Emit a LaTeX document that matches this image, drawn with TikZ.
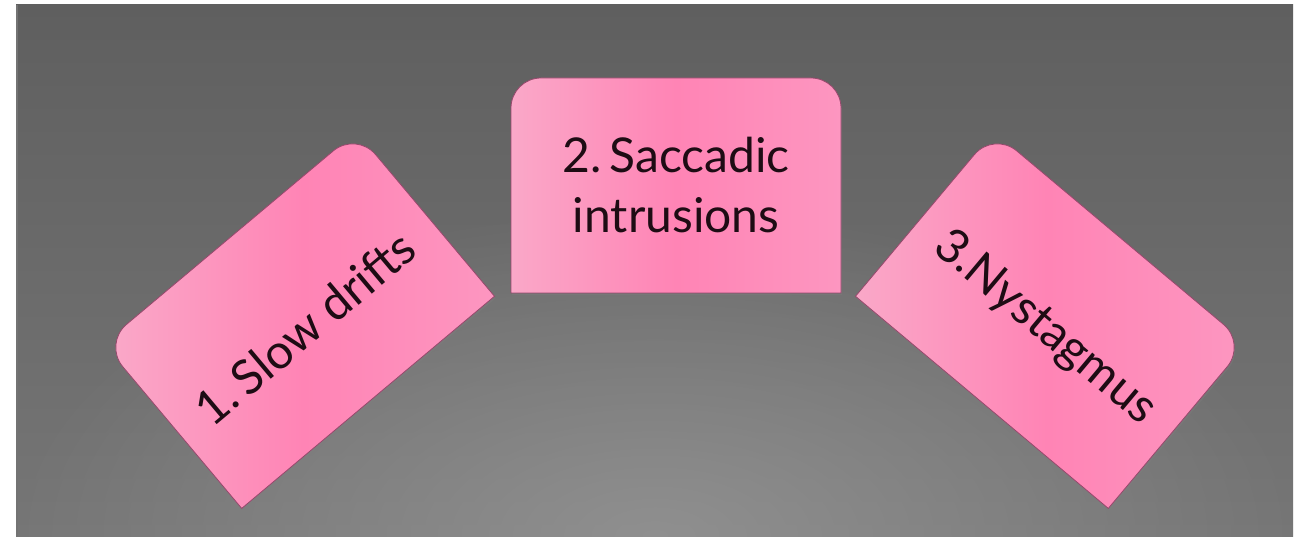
\documentclass[tikz,border=0pt]{standalone}
\usepackage{fontspec}
\setmainfont{Lato}
\usetikzlibrary{shadows,fadings}
\definecolor{bgtop}{RGB}{95,95,95}
\definecolor{bgbot}{RGB}{118,118,118}
\definecolor{glow}{RGB}{152,152,152}
\definecolor{pinkA}{RGB}{250,168,200}
\definecolor{pinkB}{RGB}{255,132,181}
\definecolor{pinkC}{RGB}{253,150,192}
\definecolor{cardedge}{RGB}{150,72,108}
\definecolor{ink}{RGB}{30,12,20}
\tikzfading[name=glowfade, inner color=transparent!25, outer color=transparent!100]
\tikzset{
  card/.style={left color=pinkA, right color=pinkC, middle color=pinkB,
    draw=cardedge, line width=0.8pt,
    drop shadow={shadow xshift=1pt, shadow yshift=-2pt, opacity=0.35}},
  cardtext/.style={text=ink, font=\fontsize{48}{60}\selectfont, align=center, inner sep=0pt},
  cardshape/.pic={
    \path[card] (-165,-107.5) -- (-165,77.5)
      arc[start angle=180, end angle=90, radius=30] -- (135,107.5)
      arc[start angle=90, end angle=0, radius=30] -- (165,-107.5) -- cycle;
  }
}
\begin{document}
\begin{tikzpicture}[x=1pt, y=1pt]
\useasboundingbox (0,0) rectangle (1301,536);
\fill[white] (0,0) rectangle (1301,536);
% grey backdrop with a soft glow near the bottom
\begin{scope}
  \clip (16,0) rectangle (1293,531);
  \shade[top color=bgtop, bottom color=bgbot] (16,0) rectangle (1293,531);
  \fill[glow, path fading=glowfade] (655,0) ellipse [x radius=650, y radius=330];
  \draw[black!55, line width=2pt] (17,0) -- (17,531);
\end{scope}

% the three cards
\pic[rotate=40] at (299,216) {cardshape};
\pic at (676,350.5) {cardshape};
\pic[rotate=-40] at (1051,216) {cardshape};

\node[cardtext, rotate=40] (drifts) at (305,208) {1.\,Slow drifts};
\node[cardtext] (saccadic) at (676,351) {2.\,Saccadic\\intrusions};
\node[cardtext, rotate=-40] (nystagmus) at (1045,208) {3.Nystagmus};
\end{tikzpicture}
\end{document}
